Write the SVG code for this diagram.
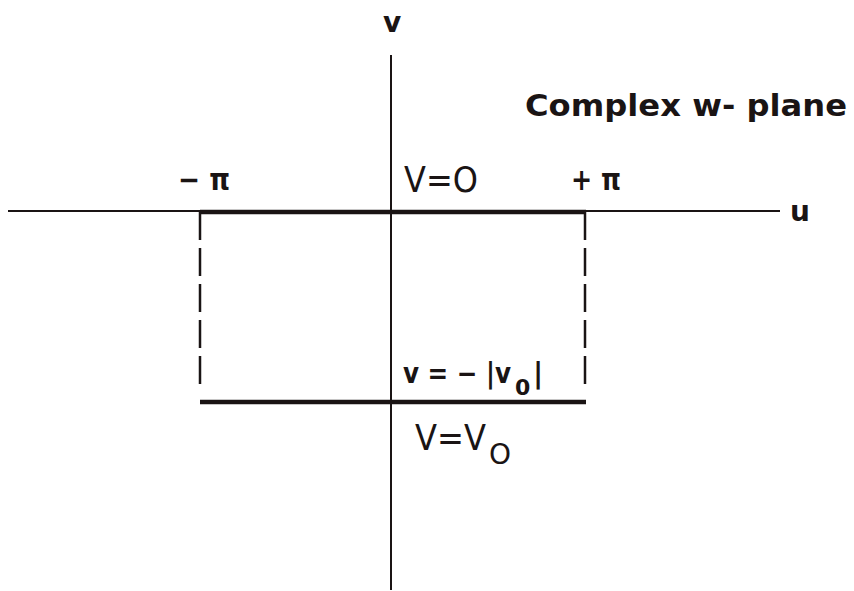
<svg xmlns="http://www.w3.org/2000/svg" width="854" height="591" viewBox="0 0 854 591">
<style>
.ax{stroke:#1a1414;stroke-width:2;fill:none}
.thick{stroke:#1a1414;stroke-width:4.5;fill:none}
.dash{stroke:#1a1414;stroke-width:2.5;fill:none;stroke-dasharray:28 8}
text{font-family:"DejaVu Sans","Liberation Sans",sans-serif;fill:#1a1414;font-weight:bold}
text.n{font-weight:normal}
</style>
<rect width="854" height="591" fill="#ffffff"/>
<g id="connectors">
<line class="ax" x1="8" y1="211" x2="780" y2="211"/>
<line class="ax" x1="391" y1="55" x2="391" y2="590"/>
<line class="thick" x1="200" y1="212" x2="586" y2="212"/>
<line class="thick" x1="200" y1="402" x2="586" y2="402"/>
<line class="dash" x1="200" y1="212" x2="200" y2="392"/>
<line class="dash" x1="585" y1="212" x2="585" y2="392"/>
</g>
<g id="labels">
<text x="383" y="32" font-size="28">v</text>
<text x="790" y="221" font-size="28">u</text>
<text x="525" y="116" font-size="31" textLength="322" lengthAdjust="spacingAndGlyphs">Complex  w- plane</text>
<text x="178" y="190" font-size="30" textLength="52" lengthAdjust="spacingAndGlyphs">− π</text>
<text x="571" y="190" font-size="30" textLength="50" lengthAdjust="spacingAndGlyphs">+ π</text>
<text class="n" x="404" y="192" font-size="36" textLength="74" lengthAdjust="spacingAndGlyphs">V=O</text>
<text x="403" y="383" font-size="28"><tspan textLength="108" lengthAdjust="spacingAndGlyphs">v = − |v</tspan><tspan x="515" dy="12" font-size="22">0</tspan><tspan x="533" dy="-12">|</tspan></text>
<text class="n" x="415" y="450" font-size="36"><tspan textLength="71" lengthAdjust="spacingAndGlyphs">V=V</tspan><tspan x="489" dy="14" font-size="28">O</tspan></text>
</g>
</svg>
